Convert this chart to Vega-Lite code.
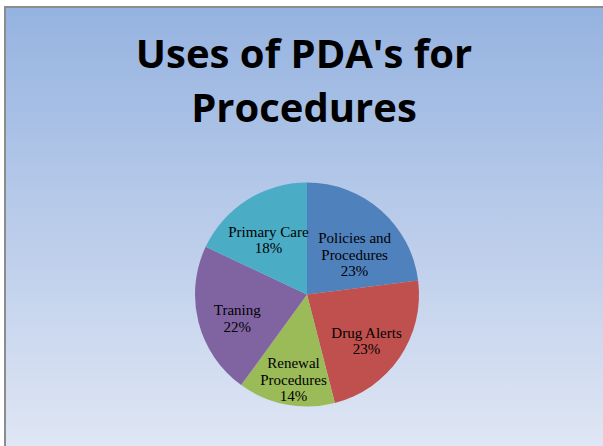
{
  "$schema": "https://vega.github.io/schema/vega-lite/v6.json",
  "width": 598,
  "height": 439,
  "autosize": {"type": "none"},
  "padding": {"left": 5, "top": 7, "right": 0, "bottom": 0},
  "background": "#ffffff",
  "view": {
    "fill": {
      "gradient": "linear",
      "x1": 0, "y1": 0, "x2": 0, "y2": 1,
      "stops": [
        {"offset": 0, "color": "#95B3E0"},
        {"offset": 0.5, "color": "#BACCEA"},
        {"offset": 1, "color": "#DFE6F4"}
      ]
    },
    "stroke": "#8c8c8c",
    "strokeWidth": 2,
    "strokeDash": [1037, 1037],
    "strokeDashOffset": 439
  },
  "title": {
    "text": ["Uses of PDA's for", "Procedures"],
    "font": "Open Sans",
    "fontSize": 40,
    "fontWeight": "bold",
    "color": "#000000",
    "lineHeight": 54,
    "anchor": "middle",
    "baseline": "alphabetic",
    "offset": -155
  },
  "data": {
    "values": [
      {"k": 1, "category": "Policies and Procedures", "pct": 23, "label": "Policies and\nProcedures\n23%"},
      {"k": 2, "category": "Drug Alerts", "pct": 23, "label": "Drug Alerts\n23%"},
      {"k": 3, "category": "Renewal Procedures", "pct": 14, "label": "Renewal\nProcedures\n14%"},
      {"k": 4, "category": "Traning", "pct": 22, "label": "Traning\n22%"},
      {"k": 5, "category": "Primary Care", "pct": 18, "label": "Primary Care\n18%"}
    ]
  },
  "encoding": {
    "theta": {"field": "pct", "type": "quantitative", "stack": true},
    "order": {"field": "k", "type": "quantitative"}
  },
  "layer": [
    {
      "mark": {"type": "arc", "outerRadius": 112, "xOffset": 3, "yOffset": 68},
      "encoding": {
        "color": {
          "field": "category",
          "type": "nominal",
          "scale": {
            "domain": ["Policies and Procedures", "Drug Alerts", "Renewal Procedures", "Traning", "Primary Care"],
            "range": ["#4F81BD", "#C0504D", "#9BBB59", "#8064A2", "#4BACC6"]
          },
          "legend": null
        }
      }
    },
    {
      "mark": {
        "type": "text",
        "radius": 72,
        "xOffset": 3,
        "yOffset": 66,
        "font": "Liberation Serif",
        "fontSize": 15,
        "lineHeight": 16.5,
        "lineBreak": "\n",
        "align": "center",
        "baseline": "middle",
        "color": "#000000"
      },
      "encoding": {
        "text": {"field": "label", "type": "nominal"}
      }
    }
  ]
}
